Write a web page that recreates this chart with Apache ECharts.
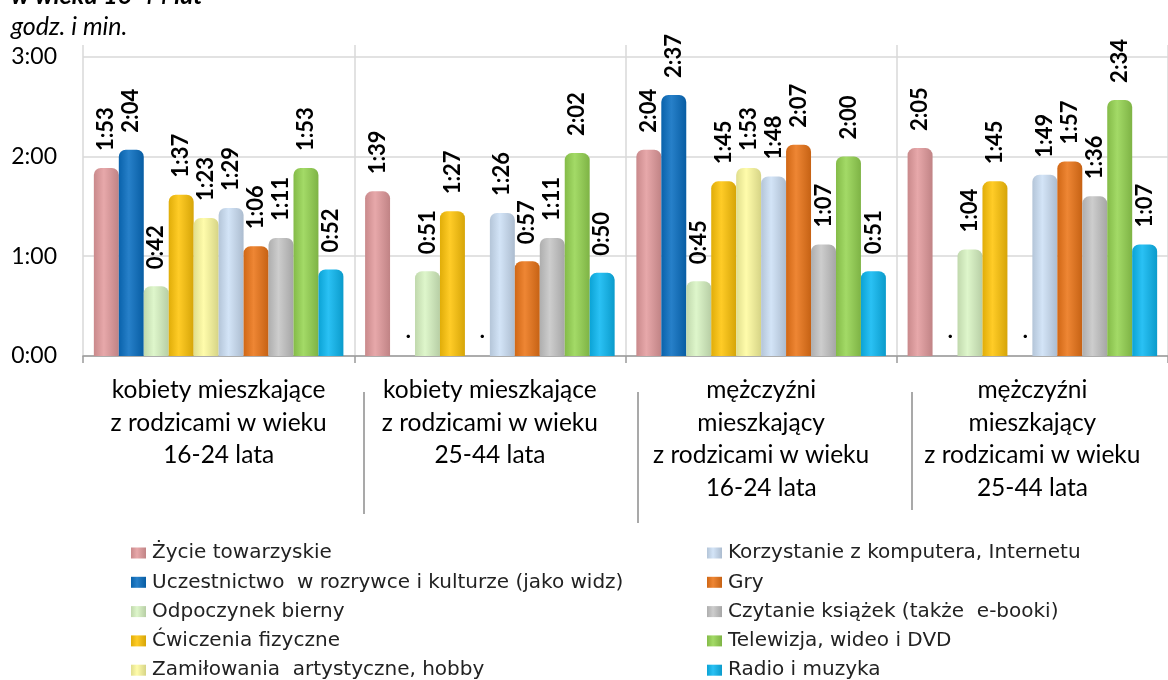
<!DOCTYPE html>
<html>
<head>
<meta charset="utf-8">
<script src="https://cdn.jsdelivr.net/npm/echarts@6/dist/echarts.min.js"></script>
<style>
html,body{margin:0;padding:0;background:#fff;}
#chart{width:1168px;height:680px;}
</style>
</head>
<body>
<div id="chart"></div>
<script>
// Categories (groups)
const categories = [
  'kobiety mieszkające\nz rodzicami w wieku\n16-24 lata',
  'kobiety mieszkające\nz rodzicami w wieku\n25-44 lata',
  'mężczyźni\nmieszkający\nz rodzicami w wieku\n16-24 lata',
  'mężczyźni\nmieszkający\nz rodzicami w wieku\n25-44 lata'
];
// Series names
const seriesNames = [
  'Życie towarzyskie',
  'Uczestnictwo  w rozrywce i kulturze (jako widz)',
  'Odpoczynek bierny',
  'Ćwiczenia fizyczne',
  'Zamiłowania  artystyczne, hobby',
  'Korzystanie z komputera, Internetu',
  'Gry',
  'Czytanie książek (także  e-booki)',
  'Telewizja, wideo i DVD',
  'Radio i muzyka'
];
// Values in minutes (null = no data, shown as ".")
const zycie        = [113, 99, 124, 125];
const uczestnictwo = [124, null, 157, null];
const odpoczynek   = [42, 51, 45, 64];
const cwiczenia    = [97, 87, 105, 105];
const zamilowania  = [83, null, 113, null];
const komputer     = [89, 86, 108, 109];
const gry          = [66, 57, 127, 117];
const czytanie     = [71, 71, 67, 96];
const telewizja    = [113, 122, 120, 154];
const radio        = [52, 50, 51, 67];
const seriesValues = [zycie, uczestnictwo, odpoczynek, cwiczenia, zamilowania, komputer, gry, czytanie, telewizja, radio];
// Y-axis ticks (minutes)
const yTicks = [0, 60, 120, 180];

const colors = ['#e49c9e','#0a6fc2','#daf5c4','#ffc50a','#fffca0','#cde0f6','#ec7518','#c6c6c6','#96d552','#0db9f2'];

function fmt(m){ const h = Math.floor(m/60), mm = Math.round(m%60); return h + ':' + String(mm).padStart(2,'0'); }
function adj(hex, f){
  let r = parseInt(hex.slice(1,3),16), g = parseInt(hex.slice(3,5),16), b = parseInt(hex.slice(5,7),16);
  if (f >= 0){ r = r + (255-r)*f; g = g + (255-g)*f; b = b + (255-b)*f; }
  else { r = r*(1+f); g = g*(1+f); b = b*(1+f); }
  return 'rgb(' + Math.round(r) + ',' + Math.round(g) + ',' + Math.round(b) + ')';
}
function grad(c){
  return new echarts.graphic.LinearGradient(0,0,1,0,[
    {offset:0, color:adj(c,-0.12)},
    {offset:0.4, color:adj(c,0.12)},
    {offset:1, color:adj(c,-0.16)}
  ]);
}

const chart = echarts.init(document.getElementById('chart'), null, {renderer:'canvas'});

const series = seriesNames.map((name, i) => {
  const arr = seriesValues[i];
  return {
    name: name,
    type: 'bar',
    barGap: '0%',
    barCategoryGap: '8%',
    data: arr.map(v => v == null ? 0 : v),
    itemStyle: { color: grad(colors[i]), borderRadius: [7,7,0,0] },
    label: {
      show: true,
      position: 'top',
      rotate: 90,
      align: 'left',
      verticalAlign: 'middle',
      distance: 17,
      fontFamily: 'Lato',
      fontWeight: 'bold',
      fontSize: 22,
      color: '#000',
      formatter: p => arr[p.dataIndex] == null ? '.' : fmt(p.value)
    }
  };
});

const legendText = { fontFamily: 'DejaVu Sans', fontSize: 20, color: '#222', lineHeight: 20, padding: [0,0,0,1] };

const option = {
  animation: false,
  backgroundColor: '#fff',
  grid: { left: 83, right: -6, top: 45, bottom: 324, containLabel: false },
  legend: [
    {
      data: seriesNames.slice(0,5),
      orient: 'vertical',
      left: 126, top: 538, height: 160, width: 560,
      itemWidth: 15, itemHeight: 11, itemGap: 9.3,
      icon: 'rect',
      textStyle: legendText
    },
    {
      data: seriesNames.slice(5),
      orient: 'vertical',
      left: 702, top: 538, height: 160, width: 460,
      itemWidth: 15, itemHeight: 11, itemGap: 9.3,
      icon: 'rect',
      textStyle: legendText
    }
  ],
  xAxis: {
    type: 'category',
    data: categories,
    axisLine: { show: true, lineStyle: { color: '#9a9a9a', width: 1.5 } },
    axisTick: { show: true, length: 7, lineStyle: { color: '#9a9a9a', width: 1.5 } },
    splitLine: { show: true, lineStyle: { color: '#d9d9d9', width: 1.5 } },
    axisLabel: {
      interval: 0,
      margin: 18,
      fontFamily: 'Lato',
      fontSize: 24.5,
      lineHeight: 32.5,
      color: '#000',
      align: 'center'
    }
  },
  yAxis: {
    type: 'value',
    min: 0,
    max: 187,
    interval: 60,
    axisLine: { show: false },
    axisTick: { show: false },
    splitLine: { show: true, showMaxLine: false, lineStyle: { color: '#d9d9d9', width: 1.5 } },
    axisLabel: {
      showMaxLabel: false,
      margin: 26,
      fontFamily: 'Lato',
      fontSize: 23,
      color: '#000',
      formatter: v => yTicks.indexOf(v) >= 0 ? fmt(v) : ''
    }
  },
  graphic: [
    { type: 'text', left: 11, top: -17, style: { text: 'w wieku 16-44 lat', fontFamily: 'Lato', fontStyle: 'italic', fontWeight: 'bold', fontSize: 25, fill: '#000' } },
    { type: 'text', left: 11, top: 14, style: { text: 'godz. i min.', fontFamily: 'Lato', fontStyle: 'italic', fontSize: 25, fill: '#000' } },
    { type: 'line', shape: { x1: 364, y1: 392, x2: 364, y2: 514 }, style: { stroke: '#8c8c8c', lineWidth: 1.5 } },
    { type: 'line', shape: { x1: 638, y1: 392, x2: 638, y2: 523 }, style: { stroke: '#8c8c8c', lineWidth: 1.5 } },
    { type: 'line', shape: { x1: 912, y1: 392, x2: 912, y2: 510 }, style: { stroke: '#8c8c8c', lineWidth: 1.5 } }
  ],
  series: series
};
chart.setOption(option);
</script>
</body>
</html>
